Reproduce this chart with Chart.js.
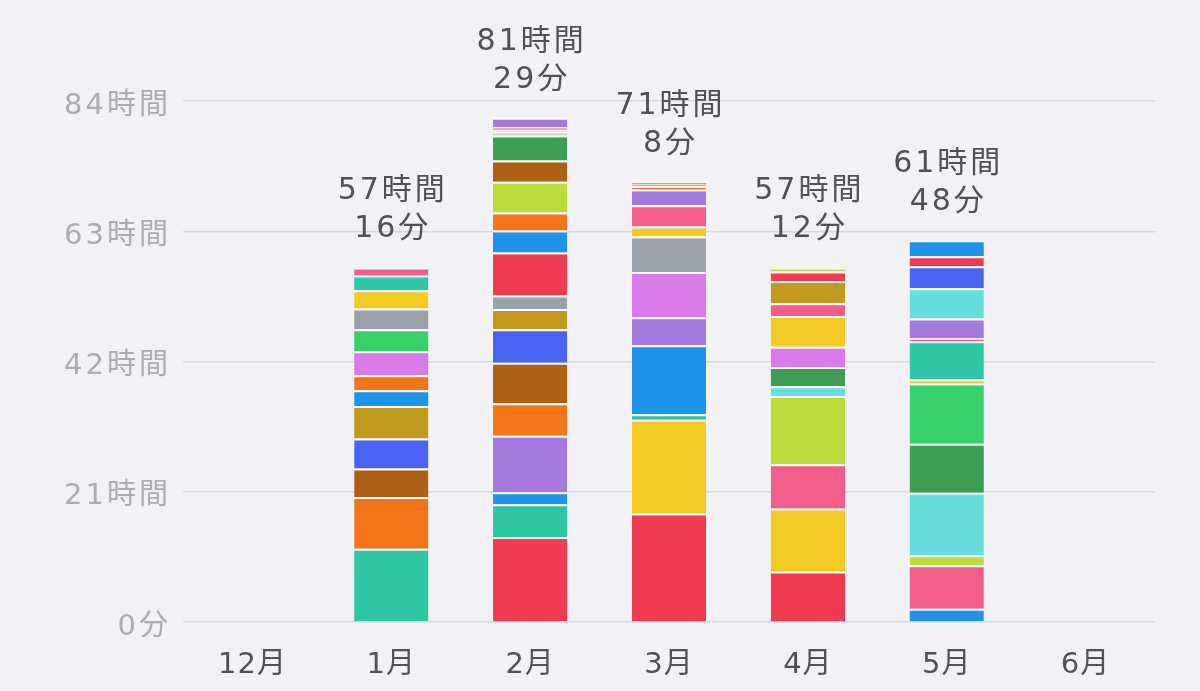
<!DOCTYPE html>
<html>
<head>
<meta charset="utf-8">
<script src="https://cdn.jsdelivr.net/npm/chart.js@4/dist/chart.umd.min.js"></script>
<style>
  html, body { margin: 0; padding: 0; background: #f2f2f6; }
  #wrap { width: 1200px; height: 691px; }
</style>
</head>
<body>
<div id="wrap"><canvas id="usage"></canvas></div>
<script>
// 月ごとの利用時間（時間単位、下から順）
const months = ['12月', '1月', '2月', '3月', '4月', '5月', '6月'];
const totalLabels = [null, ['57時間', '16分'], ['81時間', '29分'], ['71時間', '8分'], ['57時間', '12分'], ['61時間', '48分'], null];
const yTicks = [0, 21, 42, 63, 84];

const decHours = [];
const janHours = [11.83, 8.32, 4.58, 4.84, 5.26, 2.53, 2.42, 3.87, 3.55, 3.34, 2.95, 2.37, 1.29];
const febHours = [13.70, 5.27, 1.93, 9.14, 5.21, 6.53, 5.40, 3.27, 2.21, 6.93, 3.55, 2.87, 4.98, 3.43, 4.03, 0.6, 0.3, 0.4, 1.55];
const marHours = [17.49, 15.11, 0.89, 11.12, 4.51, 7.30, 5.72, 1.64, 3.43, 2.53, 0.5, 0.3, 0.38];
const aprHours = [8.13, 10.17, 7.13, 11.01, 1.56, 3.11, 3.26, 4.95, 2.06, 3.60, 1.52, 0.64];
const mayHours = [2.13, 7.01, 1.64, 10.04, 7.90, 9.72, 0.68, 6.13, 0.48, 3.22, 4.84, 3.55, 1.64, 2.55];
const junHours = [];

// 色（カテゴリ名）
const palette = {
  red: '#f03a51', teal: '#2fc6a5', orange: '#f27619', brown: '#ae6115',
  royal: '#4a63f2', olive: '#bf9a1d', sky: '#1f93e9', violet: '#d97aea',
  green: '#37d06a', gray: '#9aa0a8', yellow: '#f3c923', pink: '#f25d8b',
  purple: '#a57ade', lime: '#bcdc3c', darkgreen: '#3c9e52', cyan: '#66dedd',
  sage: '#c9d6a2', pale: '#eed6da', rose: '#e8607a'
};
const decColors = [];
const janColors = ['teal', 'orange', 'brown', 'royal', 'olive', 'sky', 'orange', 'violet', 'green', 'gray', 'yellow', 'teal', 'pink'];
const febColors = ['red', 'teal', 'sky', 'purple', 'orange', 'brown', 'royal', 'olive', 'gray', 'red', 'sky', 'orange', 'lime', 'brown', 'darkgreen', 'sage', 'pale', 'rose', 'purple'];
const marColors = ['red', 'yellow', 'teal', 'sky', 'purple', 'violet', 'gray', 'yellow', 'pink', 'purple', 'orange', 'brown', 'orange'];
const aprColors = ['red', 'yellow', 'pink', 'lime', 'cyan', 'darkgreen', 'violet', 'yellow', 'pink', 'olive', 'red', 'lime'];
const mayColors = ['sky', 'pink', 'lime', 'cyan', 'darkgreen', 'green', 'yellow', 'teal', 'pink', 'purple', 'cyan', 'royal', 'red', 'sky'];
const junColors = [];

const allHours = [decHours, janHours, febHours, marHours, aprHours, mayHours, junHours];
const allColors = [decColors, janColors, febColors, marColors, aprColors, mayColors, junColors];

// 数字は幅広のDejaVu、漢字はNoto CJK
const FONT = '"DejaVu Sans", "Noto Sans CJK JP", sans-serif';

// 層ごとにデータセットを作る（各月のi番目の区間）
const layers = Math.max(...allHours.map(a => a.length));
const datasets = [];
for (let i = 0; i < layers; i++) {
  datasets.push({
    data: allHours.map(a => (i < a.length ? a[i] : null)),
    backgroundColor: allColors.map(c => (i < c.length ? palette[c[i]] : 'transparent')),
    borderColor: 'rgba(255,255,255,0.75)',
    borderWidth: { top: 2, left: 0, right: 0, bottom: 0 },
    borderSkipped: false,
    barPercentage: 0.535,
    categoryPercentage: 1
  });
}

// 文字間隔: y目盛りと合計ラベルは広め、x目盛りは狭め
const spacingPlugin = {
  id: 'spacing',
  beforeDraw(chart) {
    chart.ctx.letterSpacing = '3px';
    const sx = chart.scales.x;
    if (!sx._spaced) {
      const orig = sx.drawLabels.bind(sx);
      sx.drawLabels = (area) => {
        const c = chart.ctx;
        const prev = c.letterSpacing;
        c.letterSpacing = '1px';
        orig(area);
        c.letterSpacing = prev;
      };
      sx._spaced = true;
    }
  }
};

const totalsPlugin = {
  id: 'totals',
  afterDatasetsDraw(chart) {
    const { ctx, scales: { x, y } } = chart;
    ctx.save();
    ctx.letterSpacing = '3px';
    ctx.font = '30px ' + FONT;
    ctx.fillStyle = '#505055';
    ctx.textAlign = 'center';
    ctx.textBaseline = 'middle';
    totalLabels.forEach((lab, i) => {
      if (!lab) return;
      const sum = allHours[i].reduce((s, v) => s + v, 0);
      const cx = x.getPixelForValue(i) + 1.5;
      const top = y.getPixelForValue(sum);
      ctx.fillText(lab[0], cx, top - 76);
      ctx.fillText(lab[1], cx, top - 38);
    });
    ctx.restore();
  }
};

new Chart(document.getElementById('usage'), {
  type: 'bar',
  data: { labels: months, datasets },
  options: {
    responsive: true,
    maintainAspectRatio: false,
    animation: false,
    layout: { padding: { top: 101, right: 45, left: 0, bottom: 0 } },
    plugins: { legend: { display: false }, tooltip: { enabled: false } },
    scales: {
      x: {
        stacked: true,
        grid: { display: false, drawTicks: false },
        border: { display: false },
        ticks: { color: '#505055', font: { family: FONT, size: 29 }, padding: 26 },
        afterFit: s => { s.height = 69; }
      },
      y: {
        stacked: true,
        min: 0,
        max: 84,
        afterBuildTicks: s => { s.ticks = yTicks.map(v => ({ value: v })); },
        grid: { color: '#d9d9dd', lineWidth: 1.5, drawTicks: false },
        border: { display: false },
        ticks: {
          color: '#ababb0',
          font: { family: FONT, size: 29 },
          padding: 12,
          labelOffset: 5,
          callback: v => (v === 0 ? '0分' : v + '時間')
        },
        afterFit: s => { s.width = 183; }
      }
    }
  },
  plugins: [spacingPlugin, totalsPlugin]
});
</script>
</body>
</html>
